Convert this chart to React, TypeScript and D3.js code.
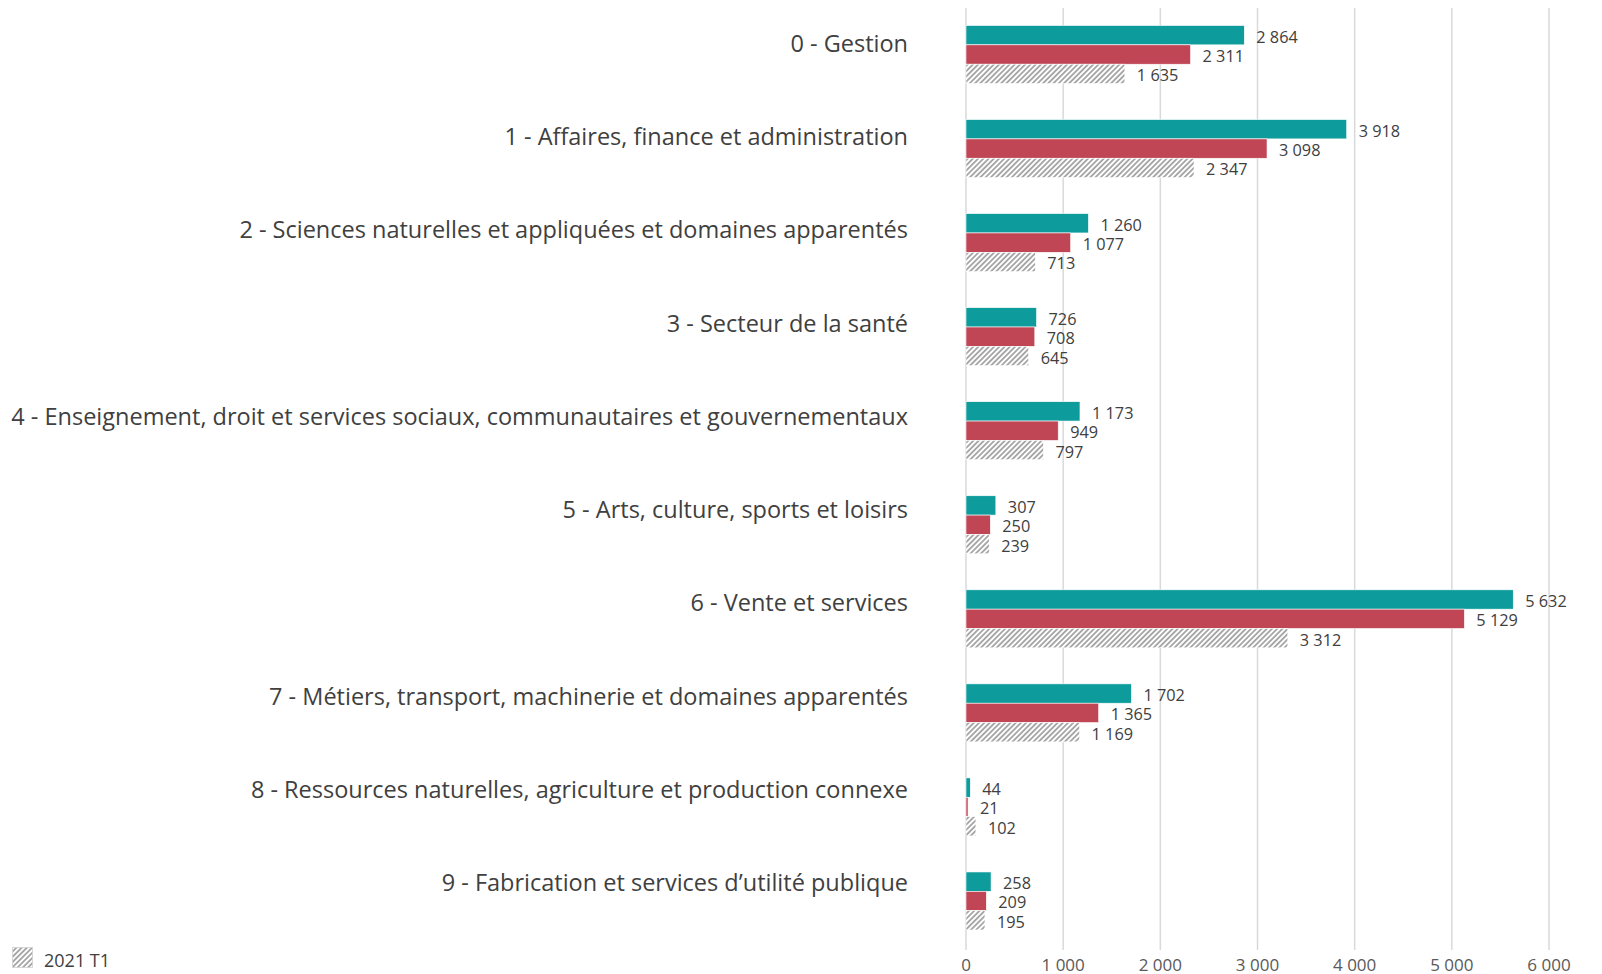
import React from "react";
import * as d3 from "d3";

const categories = [
  "0 - Gestion",
  "1 - Affaires, finance et administration",
  "2 - Sciences naturelles et appliquées et domaines apparentés",
  "3 - Secteur de la santé",
  "4 - Enseignement, droit et services sociaux, communautaires et gouvernementaux",
  "5 - Arts, culture, sports et loisirs",
  "6 - Vente et services",
  "7 - Métiers, transport, machinerie et domaines apparentés",
  "8 - Ressources naturelles, agriculture et production connexe",
  "9 - Fabrication et services d’utilité publique",
];
const seriesNames = ["2023 T1", "2022 T1", "2021 T1"];
const seriesA = [2864, 3918, 1260, 726, 1173, 307, 5632, 1702, 44, 258];
const seriesB = [2311, 3098, 1077, 708, 949, 250, 5129, 1365, 21, 209];
const seriesC = [1635, 2347, 713, 645, 797, 239, 3312, 1169, 102, 195];
const xTicks = [0, 1000, 2000, 3000, 4000, 5000, 6000];

const W = 1602;
const H = 974;

const fmt = (v: number) => d3.format(",")(v).replace(/,/g, " ");

export default function App() {
  const x = d3.scaleLinear().domain([0, 6000]).range([966, 1549]);
  const y = d3
    .scaleBand<string>()
    .domain(categories)
    .range([7.5, 948])
    .paddingInner(0.383)
    .paddingOuter(0.1915);
  const ySub = d3
    .scaleBand<string>()
    .domain(seriesNames)
    .range([0, y.bandwidth()])
    .padding(0);
  const yLabel = d3.scalePoint<string>().domain(categories).range([43, 882]);
  const all = [seriesA, seriesB, seriesC];
  const fills = ["#0E9B9B", "#C04555", "url(#hatch)"];

  return (
    <svg
      width={W}
      height={H}
      style={{ position: "absolute", left: 0, top: 0, background: "#fff" }}
    >
      <defs>
        <pattern
          id="hatch"
          patternUnits="userSpaceOnUse"
          width={3.7}
          height={3.7}
          patternTransform="rotate(45)"
        >
          <rect width={3.7} height={3.7} fill="#fff" />
          <line x1={0.9} y1={0} x2={0.9} y2={3.7} stroke="#A6A6A6" strokeWidth={1.9} />
        </pattern>
      </defs>
      {xTicks.map((t) => (
        <line
          key={t}
          x1={x(t)}
          x2={x(t)}
          y1={8}
          y2={950}
          stroke="#D9D9D9"
          strokeWidth={1.5}
        />
      ))}
      {categories.map((c, i) => (
        <g key={c}>
          <text
            x={908}
            y={yLabel(c)}
            textAnchor="end"
            dominantBaseline="central"
            fontFamily="'Open Sans', sans-serif"
            fontSize={23.5}
            fill="#404040"
          >
            {c}
          </text>
          {all.map((s, j) => {
            const y0 = (y(c) as number) + (ySub(seriesNames[j]) as number);
            const bh = ySub.bandwidth();
            return (
              <g key={j}>
                <rect
                  x={x(0)}
                  y={y0}
                  width={x(s[i]) - x(0)}
                  height={bh}
                  fill={fills[j]}
                  stroke="#fff"
                  strokeWidth={0.6}
                />
                <text
                  x={x(s[i]) + 12}
                  y={y0 + bh / 2 + 1.5}
                  dominantBaseline="central"
                  fontFamily="'Open Sans', sans-serif"
                  fontSize={16.3}
                  fill="#404040"
                >
                  {fmt(s[i])}
                </text>
              </g>
            );
          })}
        </g>
      ))}
      {xTicks.map((t) => (
        <text
          key={"l" + t}
          x={x(t)}
          y={964}
          textAnchor="middle"
          dominantBaseline="central"
          fontFamily="'Open Sans', sans-serif"
          fontSize={17}
          fill="#595959"
        >
          {fmt(t)}
        </text>
      ))}
      <rect x={12.5} y={947.5} width={20} height={20} fill="url(#hatch)" stroke="#D0D0D0" strokeWidth={0.8} />
      <text
        x={44}
        y={960}
        dominantBaseline="central"
        fontFamily="'Open Sans', sans-serif"
        fontSize={18}
        fill="#404040"
      >
        {seriesNames[2]}
      </text>
    </svg>
  );
}
